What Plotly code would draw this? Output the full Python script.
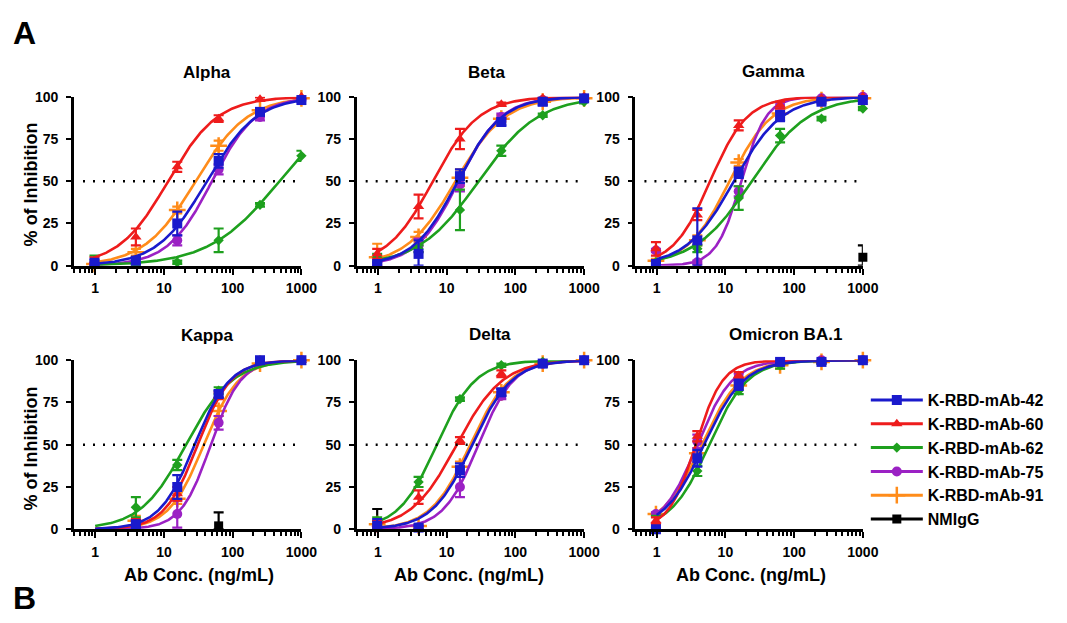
import numpy as np
import plotly.graph_objects as go

# ---------------- data ----------------
CONC = [0.977, 3.906, 15.625, 62.5, 250, 1000]          # ng/mL, 4-fold dilutions
XTICKS = [1, 10, 100, 1000]
XTICKTEXT = ["1", "10", "100", "1000"]
YTICKS = [0, 25, 50, 75, 100]

PANELS = ["Alpha", "Beta", "Gamma", "Kappa", "Delta", "Omicron BA.1"]
SERIES = ["K-RBD-mAb-42", "K-RBD-mAb-60", "K-RBD-mAb-62", "K-RBD-mAb-75", "K-RBD-mAb-91", "NMIgG"]

# mean % inhibition at each CONC (None = no point)
ALPHA_MEAN = {"K-RBD-mAb-42": [1, 3, 25, 62, 91, 98], "K-RBD-mAb-60": [3, 17, 58.5, 87, 98.5, 100],
              "K-RBD-mAb-62": [3, 1, 2, 15, 36, 65], "K-RBD-mAb-75": [1, 1, 15, 57, 88, 98],
              "K-RBD-mAb-91": [1, 8, 33, 71, 92, 99]}
ALPHA_SD = {"K-RBD-mAb-42": [3, 2, 7, 4, 2, 1], "K-RBD-mAb-60": [2, 5, 3, 2, 1, 1],
            "K-RBD-mAb-62": [3, 1, 1, 7, 1, 3], "K-RBD-mAb-75": [1, 1, 3, 3, 2, 1],
            "K-RBD-mAb-91": [1, 2, 2, 3, 1, 1]}
BETA_MEAN = {"K-RBD-mAb-42": [1, 7, 53, 85, 97, 99], "K-RBD-mAb-60": [7, 35, 75, 95.5, 99, 100],
             "K-RBD-mAb-62": [5, 10, 33, 68, 89, 97], "K-RBD-mAb-75": [1, 12, 48, 88, 98, 99],
             "K-RBD-mAb-91": [5, 17, 52, 87, 97, 99]}
BETA_SD = {"K-RBD-mAb-42": [1, 8, 4, 2, 2, 1], "K-RBD-mAb-60": [3, 7, 6, 1, 1, 1],
           "K-RBD-mAb-62": [2, 2, 12, 3, 1, 1], "K-RBD-mAb-75": [1, 4, 4, 2, 1, 1],
           "K-RBD-mAb-91": [8, 3, 5, 2, 1, 1]}
GAMMA_MEAN = {"K-RBD-mAb-42": [1, 15, 55, 88.5, 97, 98], "K-RBD-mAb-60": [10, 30, 83, 95, 99, 100],
              "K-RBD-mAb-62": [2, 10, 40, 77, 87, 93], "K-RBD-mAb-75": [9, 2, 44, 95, 99, 100],
              "K-RBD-mAb-91": [3, 15, 61, 90, 98, 99], "NMIgG": [None, None, None, None, None, 5]}
GAMMA_SD = {"K-RBD-mAb-42": [2, 19, 3, 3, 1, 1], "K-RBD-mAb-60": [4, 3, 3, 2, 1, 1],
            "K-RBD-mAb-62": [1, 2, 7, 4, 1, 1], "K-RBD-mAb-75": [1, 1, 3, 2, 1, 1],
            "K-RBD-mAb-91": [1, 3, 2, 2, 1, 1], "NMIgG": [0, 0, 0, 0, 0, 7]}
KAPPA_MEAN = {"K-RBD-mAb-42": [None, 3, 25, 80, 100, 100], "K-RBD-mAb-60": [None, 4, 21, 79, 99, 100],
              "K-RBD-mAb-62": [None, 13, 38, 82, 99, 100], "K-RBD-mAb-75": [None, 3, 9, 63, 99, 100],
              "K-RBD-mAb-91": [None, 5, 18, 70, 98, 100], "NMIgG": [None, None, None, 2, None, None]}
KAPPA_SD = {"K-RBD-mAb-42": [0, 2, 7, 2, 1, 0.5], "K-RBD-mAb-60": [0, 2, 4, 2, 1, 0.5],
            "K-RBD-mAb-62": [0, 6, 3, 2, 1, 0.5], "K-RBD-mAb-75": [0, 2, 8, 4, 1, 0.5],
            "K-RBD-mAb-91": [0, 3, 3, 3, 1, 0.5], "NMIgG": [0, 0, 0, 8, 0, 0]}
DELTA_MEAN = {"K-RBD-mAb-42": [2, 1, 35, 81, 98, 100], "K-RBD-mAb-60": [3, 19, 52.5, 92, 98, 100],
              "K-RBD-mAb-62": [5, 28, 77, 97, 99, 100], "K-RBD-mAb-75": [1, 1, 25, 79, 98, 100],
              "K-RBD-mAb-91": [3, 2, 37, 81, 98, 100], "NMIgG": [3, None, None, None, None, None]}
DELTA_SD = {"K-RBD-mAb-42": [4, 1, 4, 2, 2, 1], "K-RBD-mAb-60": [2, 4, 2, 2, 1, 0.5],
            "K-RBD-mAb-62": [2, 3, 1, 1, 1, 0.5], "K-RBD-mAb-75": [1, 1, 6, 2, 1, 0.5],
            "K-RBD-mAb-91": [2, 1, 3, 2, 1, 0.5], "NMIgG": [9, 0, 0, 0, 0, 0]}
OMICRON_MEAN = {"K-RBD-mAb-42": [0, 42, 85.5, 99, 99, 100], "K-RBD-mAb-60": [5, 55, 91, 99, 100, 100],
                "K-RBD-mAb-62": [0, 34.5, 82, 97, 99, 100], "K-RBD-mAb-75": [9, 52, 90, 99, 100, 100],
                "K-RBD-mAb-91": [9, 45, 85, 97, 99, 100]}
OMICRON_SD = {"K-RBD-mAb-42": [1, 5, 3, 1, 1, 0.5], "K-RBD-mAb-60": [2, 3, 2, 1, 0.5, 0.5],
              "K-RBD-mAb-62": [8, 3, 2, 2, 1, 0.5], "K-RBD-mAb-75": [1, 4, 2, 1, 0.5, 0.5],
              "K-RBD-mAb-91": [1, 3, 2, 2, 1, 0.5]}

# fitted curves: (EC50 ng/mL, Hill slope) read from the drawn fits
ALPHA_FIT = {"K-RBD-mAb-42": (42, 1.2), "K-RBD-mAb-60": (11.5, 1.2), "K-RBD-mAb-62": (480, 0.85),
             "K-RBD-mAb-75": (50, 1.35), "K-RBD-mAb-91": (29, 1.15)}
BETA_FIT = {"K-RBD-mAb-42": (14.5, 1.35), "K-RBD-mAb-60": (6.3, 1.3), "K-RBD-mAb-62": (29, 1.0),
            "K-RBD-mAb-75": (15, 1.4), "K-RBD-mAb-91": (13.5, 1.2)}
GAMMA_FIT = {"K-RBD-mAb-42": (13.3, 1.25), "K-RBD-mAb-60": (6.0, 1.6), "K-RBD-mAb-62": (24, 1.05),
             "K-RBD-mAb-75": (17, 2.4), "K-RBD-mAb-91": (11.5, 1.4)}
KAPPA_FIT = {"K-RBD-mAb-42": (28, 1.7), "K-RBD-mAb-60": (31, 1.8), "K-RBD-mAb-62": (21, 1.3),
             "K-RBD-mAb-75": (48, 2.0), "K-RBD-mAb-91": (38, 1.7)}
DELTA_FIT = {"K-RBD-mAb-42": (23.5, 1.5), "K-RBD-mAb-60": (14, 1.3), "K-RBD-mAb-62": (7.2, 1.55),
             "K-RBD-mAb-75": (29, 1.7), "K-RBD-mAb-91": (22, 1.5)}
OMICRON_FIT = {"K-RBD-mAb-42": (4.9, 1.5), "K-RBD-mAb-60": (3.7, 2.2), "K-RBD-mAb-62": (5.8, 1.55),
               "K-RBD-mAb-75": (3.9, 1.7), "K-RBD-mAb-91": (4.5, 1.5)}

MEANS = [ALPHA_MEAN, BETA_MEAN, GAMMA_MEAN, KAPPA_MEAN, DELTA_MEAN, OMICRON_MEAN]
SDS = [ALPHA_SD, BETA_SD, GAMMA_SD, KAPPA_SD, DELTA_SD, OMICRON_SD]
FITS = [ALPHA_FIT, BETA_FIT, GAMMA_FIT, KAPPA_FIT, DELTA_FIT, OMICRON_FIT]

# ---------------- style ----------------
COLORS = {"K-RBD-mAb-42": "#1a1acc", "K-RBD-mAb-60": "#ee1c1c", "K-RBD-mAb-62": "#1ea01e",
          "K-RBD-mAb-75": "#9b21c4", "K-RBD-mAb-91": "#ff8c1a", "NMIgG": "#000000"}
SYMBOLS = {"K-RBD-mAb-42": "square", "K-RBD-mAb-60": "triangle-up", "K-RBD-mAb-62": "diamond",
           "K-RBD-mAb-75": "circle", "K-RBD-mAb-91": "cross-thin", "NMIgG": "square"}
SIZES = {"K-RBD-mAb-42": 10, "K-RBD-mAb-60": 10, "K-RBD-mAb-62": 8,
         "K-RBD-mAb-75": 10, "K-RBD-mAb-91": 12, "NMIgG": 9}
FONT = "Liberation Sans, Arial, sans-serif"
W, H = 1067, 623

# panel boxes in pixels: (left, right, top, bottom)
BOXES = [(75, 306, 91, 264.5), (362, 593, 91, 264.5), (645, 876, 91, 264.5),
         (75, 306, 361.5, 535), (362, 593, 361.5, 535), (645, 876, 361.5, 535)]
XLOW = -0.31

def fx(px):
    return px / W

def fy(py):
    return 1 - py / H

fig = go.Figure()
layout = {}
xs = np.logspace(0, 3, 250)

for i, (panel, means, sds, fits, box) in enumerate(zip(PANELS, MEANS, SDS, FITS, BOXES)):
    n = "" if i == 0 else str(i + 1)
    xa, ya = "x" + n, "y" + n
    l, r, t, b = box
    layout["xaxis" + n] = dict(
        domain=[fx(l), fx(r)], anchor=ya, type="log", range=[XLOW, 3],
        tickmode="array", tickvals=XTICKS, ticktext=XTICKTEXT,
        showline=True, linewidth=2.6, linecolor="black", ticks="outside", ticklen=6,
        tickwidth=2.4, tickcolor="black", showgrid=False, zeroline=False,
        ticklabelstandoff=2,
        tickfont=dict(family=FONT, size=14, color="black", weight="bold"),
        minor=dict(ticks="outside", ticklen=4, tickwidth=1.6, tickcolor="black",
                   dtick="D1", showgrid=False),
    )
    layout["yaxis" + n] = dict(
        domain=[fy(b), fy(t)], anchor=xa, range=[0, 100], tickvals=YTICKS,
        showline=True, linewidth=2.6, linecolor="black", ticks="outside", ticklen=5,
        tickwidth=2.4, tickcolor="black", showgrid=False, zeroline=False,
        ticklabelstandoff=5,
        tickfont=dict(family=FONT, size=14, color="black", weight="bold"),
    )
    # draw order: later series below, first series (42) on top
    for s in reversed(SERIES):
        if s not in means:
            continue
        c = COLORS[s]
        if s in fits:
            ec50, hill = fits[s]
            ys = 100.0 / (1.0 + (ec50 / xs) ** hill)
            fig.add_trace(go.Scatter(x=xs, y=ys, xaxis=xa, yaxis=ya, mode="lines",
                                     line=dict(color=c, width=2.6), showlegend=False,
                                     hoverinfo="skip"))
        mv = means[s]
        sv = sds[s]
        px_, py_, ep, em = [], [], [], []
        for xc, m, e in zip(CONC, mv, sv):
            if m is None:
                continue
            px_.append(xc)
            py_.append(m)
            ep.append(e)
            em.append(min(e, m))
        fig.add_trace(go.Scatter(
            x=px_, y=py_, xaxis=xa, yaxis=ya, mode="markers", showlegend=False,
            cliponaxis=False,
            marker=dict(symbol=SYMBOLS[s], size=SIZES[s], color=c,
                        line=dict(color=c, width=2.5 if s == "K-RBD-mAb-91" else 0)),
            error_y=dict(type="data", array=ep, arrayminus=em, color=c, thickness=2.2, width=5),
        ))

# legend proxies (no data, legend only)
for s in SERIES:
    c = COLORS[s]
    fig.add_trace(go.Scatter(
        x=[None], y=[None], mode="lines+markers", name=s,
        line=dict(color=c, width=3),
        marker=dict(symbol=SYMBOLS[s], size=SIZES[s], color=c,
                    line=dict(color=c, width=2.5 if s == "K-RBD-mAb-91" else 0)),
    ))

# 50 % reference lines
shapes = []
for i in range(6):
    n = "" if i == 0 else str(i + 1)
    shapes.append(dict(type="line", xref=("x" + n) + " domain", yref="y" + n,
                       x0=0.04, x1=1.0, y0=50, y1=50,
                       line=dict(color="black", width=2.4, dash="2px,8px")))

TITLE_POS = [(210, 66.5), (494, 66), (785, 65), (211, 336), (497, 335), (797, 335)]
XTITLE_POS = [(202, 581.5), (476, 581.5), (762, 581.5)]
YTITLE_POS = [(31.5, 181), (31.5, 452)]

ann = []
for (x, y), name in zip(TITLE_POS, PANELS):
    ann.append(dict(x=fx(x), y=fy(y), xref="paper", yref="paper", text=name, showarrow=False,
                    xanchor="center", yanchor="middle",
                    font=dict(family=FONT, size=17, color="black", weight="bold")))
for x, y in XTITLE_POS:
    ann.append(dict(x=fx(x), y=fy(y), xref="paper", yref="paper", text="Ab Conc. (ng/mL)",
                    showarrow=False, xanchor="center", yanchor="middle",
                    font=dict(family=FONT, size=18, color="black", weight="bold")))
for x, y in YTITLE_POS:
    ann.append(dict(x=fx(x), y=fy(y), xref="paper", yref="paper", text="% of Inhibition",
                    showarrow=False, xanchor="center", yanchor="middle", textangle=-90,
                    font=dict(family=FONT, size=18, color="black", weight="bold")))
for txt, (x, y) in [("A", (25, 26)), ("B", (25, 606))]:
    ann.append(dict(x=fx(x), y=fy(y), xref="paper", yref="paper", text=txt, showarrow=False,
                    xanchor="center", yanchor="middle",
                    font=dict(family=FONT, size=32, color="black", weight="bold")))

fig.update_layout(
    width=W, height=H, margin=dict(l=0, r=0, t=0, b=0),
    paper_bgcolor="white", plot_bgcolor="white",
    shapes=shapes, annotations=ann,
    legend=dict(x=fx(879), y=fy(385), xanchor="left", yanchor="top",
                font=dict(family=FONT, size=16, color="black", weight="bold"),
                tracegroupgap=0, itemwidth=52, bgcolor="rgba(0,0,0,0)"),
    **layout,
)

fig.write_html("out.html", config={"displayModeBar": False},
               post_script="document.body.style.margin='0';document.body.style.overflow='hidden';")
